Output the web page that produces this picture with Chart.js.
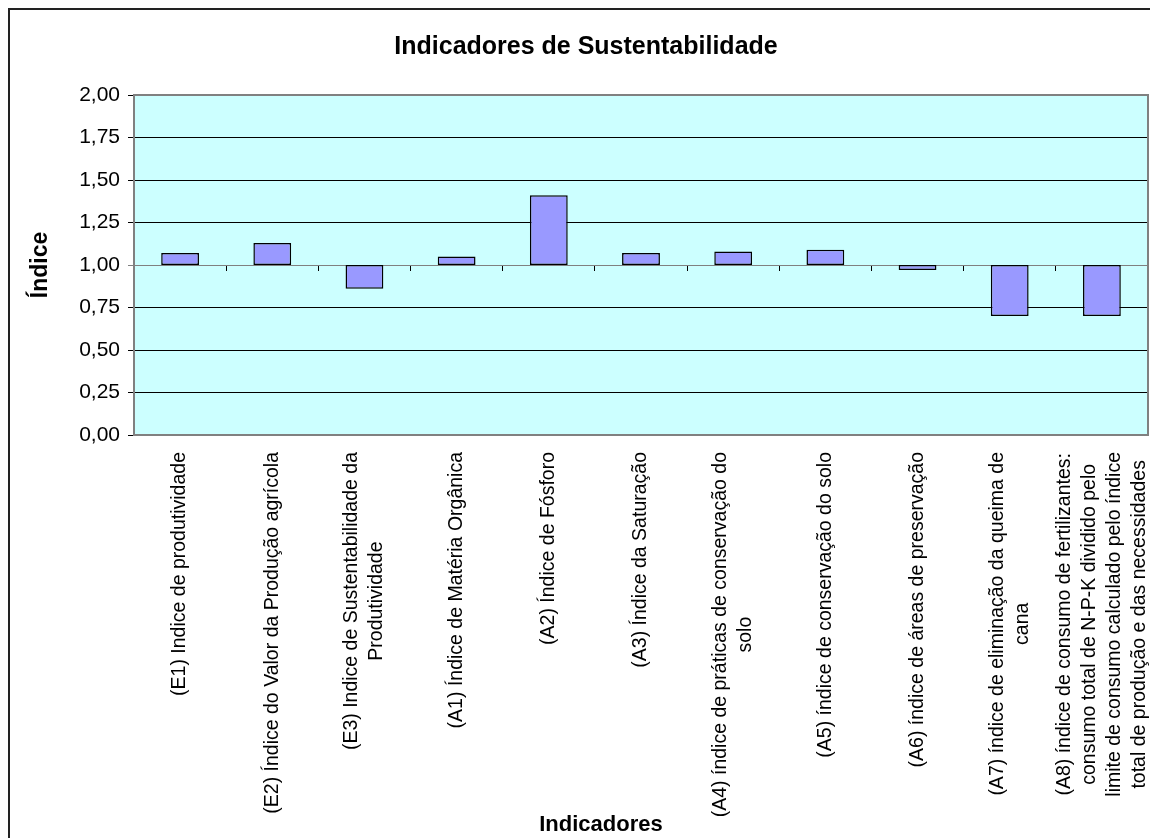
<!DOCTYPE html>
<html>
<head>
<meta charset="utf-8">
<script src="https://cdn.jsdelivr.net/npm/chart.js@4.4.1/dist/chart.umd.min.js"></script>
<style>
  html, body { margin: 0; padding: 0; background: #fff; }
  #wrap { width: 1150px; height: 838px; position: relative; }
</style>
</head>
<body>
<div id="wrap"><canvas id="c"></canvas></div>
<script>
// ---- data ----
const categories = [
  "(E1) Indice de produtividade",
  "(E2) Índice do Valor da Produção agrícola",
  ["(E3) Indice de Sustentabilidade da", "Produtividade"],
  "(A1) Índice de Matéria Orgânica",
  "(A2) Índice de Fósforo",
  "(A3) Índice da Saturação",
  ["(A4) índice de práticas de conservação do", "solo"],
  "(A5) índice de conservação do solo",
  "(A6) índice de áreas de preservação",
  ["(A7) índice de eliminação da queima de", "cana"],
  ["(A8) índice de consumo de fertilizantes:", "consumo total de N-P-K dividido pelo", "limite de consumo calculado pelo índice", "total de produção e das necessidades"]
];
const indexValues = [1.07, 1.13, 0.86, 1.05, 1.41, 1.07, 1.08, 1.09, 0.97, 0.70, 0.70];
const baseValue = 1.00;
const yTickLabels = ["0,00", "0,25", "0,50", "0,75", "1,00", "1,25", "1,50", "1,75", "2,00"];
const chartTitle = "Indicadores de Sustentabilidade";
const xTitle = "Indicadores";
const yTitle = "Índice";

const FONT = "'Liberation Sans', Arial, Helvetica, sans-serif";

const floating = indexValues.map(v => [baseValue, v]);

const excelPlugin = {
  id: 'excelLook',
  beforeDraw(chart) {
    const { ctx, chartArea: a } = chart;
    ctx.save();
    ctx.fillStyle = '#ffffff';
    ctx.fillRect(0, 0, chart.width, chart.height);
    // outer frame
    ctx.strokeStyle = '#222222';
    ctx.lineWidth = 2;
    ctx.beginPath();
    ctx.moveTo(9, chart.height + 5);
    ctx.lineTo(9, 9);
    ctx.lineTo(chart.width + 5, 9);
    ctx.stroke();
    // plot background
    ctx.fillStyle = '#CCFFFF';
    ctx.fillRect(a.left, a.top, a.right - a.left, a.bottom - a.top);
    ctx.restore();
  },
  afterDatasetsDraw(chart) {
    const { ctx, chartArea: a } = chart;
    ctx.save();
    ctx.strokeStyle = '#808080';
    ctx.lineWidth = 2;
    ctx.strokeRect(a.left, a.top, a.right - a.left, a.bottom - a.top);
    ctx.restore();
  },
  afterDraw(chart) {
    const { ctx, chartArea: a } = chart;
    const xs = chart.scales.x;
    ctx.save();
    ctx.fillStyle = '#000';
    ctx.font = '19.5px ' + FONT;
    const lineH = 25;
    categories.forEach((lab, i) => {
      const lines = Array.isArray(lab) ? lab : [lab];
      const cx = xs.getPixelForValue(i);
      const w = Math.max(...lines.map(l => ctx.measureText(l).width));
      const cy = a.bottom + 17 + w / 2;
      lines.forEach((l, j) => {
        const x = cx + (j - (lines.length - 1) / 2) * lineH;
        ctx.save();
        ctx.translate(x, cy);
        ctx.rotate(-Math.PI / 2);
        ctx.textAlign = 'center';
        ctx.textBaseline = 'middle';
        ctx.fillText(l, 0, 0);
        ctx.restore();
      });
    });
    ctx.font = 'bold 22px ' + FONT;
    ctx.textAlign = 'center';
    ctx.textBaseline = 'middle';
    ctx.fillText(xTitle, 601, 825);
    ctx.restore();
  }
};

new Chart(document.getElementById('c'), {
  type: 'bar',
  data: {
    labels: categories,
    datasets: [{
      data: floating,
      backgroundColor: '#9999FF',
      borderColor: '#000000',
      borderWidth: 1.5,
      borderSkipped: false,
      barPercentage: 0.41,
      categoryPercentage: 1.0,
      xAxisID: 'x',
      yAxisID: 'y'
    }]
  },
  options: {
    responsive: true,
    maintainAspectRatio: false,
    animation: false,
    devicePixelRatio: 1,
    layout: { padding: { top: 8, left: 24, right: 2, bottom: 403 } },
    plugins: {
      legend: { display: false },
      tooltip: { enabled: false },
      title: {
        display: true,
        text: chartTitle,
        color: '#000',
        font: { family: FONT, size: 25, weight: 'bold' },
        padding: { top: 24, bottom: 33 }
      }
    },
    scales: {
      x: {
        type: 'category',
        display: false,
        offset: true
      },
      x2: {
        type: 'category',
        axis: 'x',
        position: { y: 1 },
        offset: true,
        grid: { offset: true, drawOnChartArea: false, drawTicks: true, tickLength: 6, color: '#000', lineWidth: 1 },
        ticks: { display: false },
        border: { display: false }
      },
      y: {
        min: 0,
        max: 2,
        afterFit(s) { s.width = 110; },
        ticks: {
          stepSize: 0.25,
          padding: 8,
          color: '#000',
          font: { family: FONT, size: 21 },
          callback: (v, i) => yTickLabels[i]
        },
        grid: {
          color: c => (c.tick && Math.abs(c.tick.value - 1) < 1e-9) ? '#808080' : '#000000',
          lineWidth: 1,
          tickLength: 6
        },
        border: { display: false },
        title: {
          display: true,
          text: yTitle,
          color: '#000',
          font: { family: FONT, size: 23, weight: 'bold' },
          padding: { top: 3, bottom: 0 }
        }
      }
    }
  },
  plugins: [excelPlugin]
});
</script>
</body>
</html>
